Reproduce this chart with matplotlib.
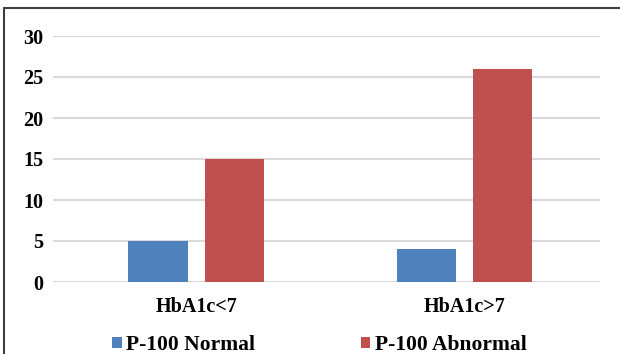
import matplotlib.pyplot as plt
import numpy as np
from matplotlib.patches import Rectangle

plt.rcParams['font.family'] = 'Liberation Serif'
plt.rcParams['font.weight'] = 'bold'

groups = ['HbA1c<7', 'HbA1c>7']
normal = [5, 4]
abnormal = [15, 26]
series_names = ['P-100 Normal', 'P-100 Abnormal']
yticks = [0, 5, 10, 15, 20, 25, 30]

blue = '#4F81BD'
red = '#C0504D'

fig = plt.figure(figsize=(6.2, 3.54), dpi=100)
ax = fig.add_axes([53/620, 72/354, 547/620, 246/354])

x = np.arange(len(groups))
w = 0.22
b1 = ax.bar(x - 0.142, normal, w, color=blue, zorder=3)
b2 = ax.bar(x + 0.142, abnormal, w, color=red, zorder=3)

ax.set_xlim(-0.533, 1.504)
ax.set_ylim(0, 30)
ax.set_yticks(yticks)
ax.set_xticks(x)
ax.set_xticklabels(groups)
ax.yaxis.grid(True, color='#D9D9D9', linewidth=1.5, zorder=0)
for s in ax.spines.values():
    s.set_visible(False)
ax.tick_params(length=0)
ax.tick_params(axis='y', pad=7, labelsize=14.5)
ax.tick_params(axis='x', pad=11, labelsize=14.5)

fig.legend([b1, b2], series_names, loc='center', ncol=2,
           bbox_to_anchor=(0.515, 1 - 345/354), frameon=False,
           fontsize=15.5, handlelength=0.45, handleheight=0.45,
           handletextpad=0.2, columnspacing=4.9)

# outer frame
fig.patches.append(Rectangle((4/620, -0.1), 1.2, 1 - 8/354 + 0.1,
                             transform=fig.transFigure, fill=False,
                             edgecolor='#404040', linewidth=1.5))

fig.savefig('out.png', dpi=100)
